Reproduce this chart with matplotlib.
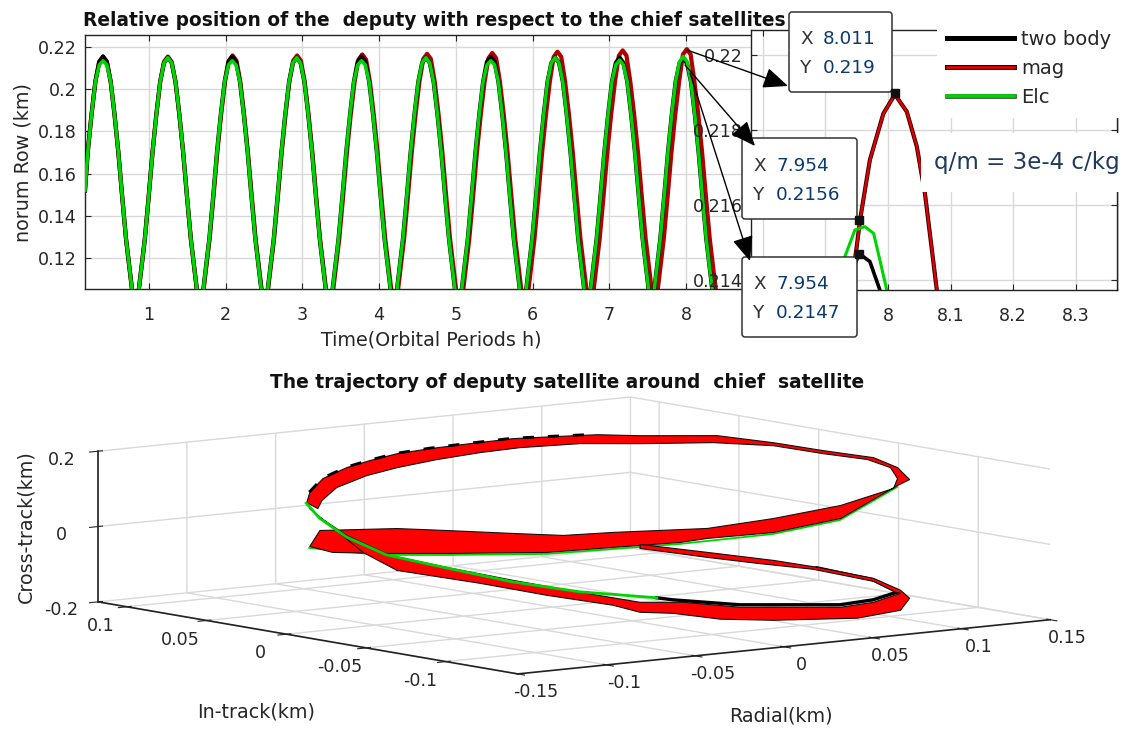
import matplotlib
matplotlib.use("Agg")
import matplotlib.pyplot as plt
from matplotlib.patches import FancyBboxPatch, Rectangle
from matplotlib.lines import Line2D
from matplotlib.transforms import IdentityTransform
from mpl_toolkits.mplot3d.art3d import Poly3DCollection
import matplotlib.patheffects as pe

plt.rcParams['font.family'] = ['DejaVu Sans']
plt.rcParams['axes.unicode_minus'] = False

W, H = 1127, 731
TEXT = '#262626'
GRID = '#d9d9d9'

# ---------- top panel data ----------
time_two_body = [
 0.165,0.20,0.25,0.30,0.35,0.40,0.45,0.50,0.55,0.60,0.65,0.70,0.78,0.82,
 0.865,0.945,0.995,1.045,1.095,1.145,1.195,1.245,1.295,1.345,1.395,1.445,1.495,1.545,1.625,1.665,
 1.705,1.785,1.835,1.885,1.935,1.985,2.035,2.085,2.135,2.185,2.235,2.285,2.335,2.385,2.465,2.505,
 2.545,2.625,2.675,2.725,2.775,2.825,2.875,2.925,2.975,3.025,3.075,3.125,3.175,3.225,3.305,3.345,
 3.39,3.47,3.52,3.57,3.62,3.67,3.72,3.77,3.82,3.87,3.92,3.97,4.02,4.07,4.15,4.19,
 4.23,4.31,4.36,4.41,4.46,4.51,4.56,4.61,4.66,4.71,4.76,4.81,4.86,4.91,4.99,5.03,
 5.075,5.155,5.205,5.255,5.305,5.355,5.405,5.455,5.505,5.555,5.605,5.655,5.705,5.755,5.835,5.875,
 5.915,5.995,6.045,6.095,6.145,6.195,6.245,6.295,6.345,6.395,6.445,6.495,6.545,6.595,6.675,6.715,
 6.755,6.835,6.885,6.935,6.985,7.035,7.085,7.135,7.185,7.235,7.285,7.335,7.385,7.435,7.515,7.555,
 7.585,7.665,7.715,7.765,7.815,7.865,7.915,7.965,8.015,8.065,8.115,8.165,8.215,8.265,8.345,8.385]
row_two_body = [
 .152,.170,.188,.2035,.2130,.2155,.2130,.2035,.188,.170,.149,.129,.1045,.099,
 .1045,.129,.149,.170,.188,.2035,.2125,.2150,.2125,.2035,.188,.170,.149,.129,.1045,.099,
 .1045,.129,.149,.170,.188,.2035,.2130,.2155,.2130,.2035,.188,.170,.149,.129,.1045,.099,
 .1045,.129,.149,.170,.188,.2035,.2125,.2150,.2125,.2035,.188,.170,.149,.129,.1045,.099,
 .1045,.129,.149,.170,.188,.2035,.2130,.2155,.2130,.2035,.188,.170,.149,.129,.1045,.099,
 .1045,.129,.149,.170,.188,.2035,.2125,.2150,.2125,.2035,.188,.170,.149,.129,.1045,.099,
 .1045,.129,.149,.170,.188,.2035,.2130,.2152,.2130,.2035,.188,.170,.149,.129,.1045,.099,
 .1045,.129,.149,.170,.188,.2035,.2125,.2150,.2125,.2035,.188,.170,.149,.129,.1045,.099,
 .1045,.129,.149,.170,.188,.2035,.2125,.2150,.2125,.2035,.188,.170,.149,.129,.1045,.099,
 .1045,.129,.149,.170,.188,.2035,.2122,.2147,.2122,.2035,.188,.170,.149,.129,.1045,.099]
row_elc = [
 .152,.170,.188,.2035,.2115,.2135,.2115,.2035,.188,.170,.149,.129,.1045,.099,
 .1045,.129,.149,.170,.188,.2035,.2125,.2150,.2125,.2035,.188,.170,.149,.129,.1045,.099,
 .1045,.129,.149,.170,.188,.2035,.2115,.2135,.2115,.2035,.188,.170,.149,.129,.1045,.099,
 .1045,.129,.149,.170,.188,.2035,.2125,.2150,.2125,.2035,.188,.170,.149,.129,.1045,.099,
 .1045,.129,.149,.170,.188,.2035,.2115,.2135,.2115,.2035,.188,.170,.149,.129,.1045,.099,
 .1045,.129,.149,.170,.188,.2035,.2125,.2150,.2125,.2035,.188,.170,.149,.129,.1045,.099,
 .1045,.129,.149,.170,.188,.2035,.2115,.2135,.2115,.2035,.188,.170,.149,.129,.1045,.099,
 .1045,.129,.149,.170,.188,.2035,.2125,.2150,.2125,.2035,.188,.170,.149,.129,.1045,.099,
 .1045,.129,.149,.170,.188,.2035,.2115,.2138,.2115,.2035,.188,.170,.149,.129,.1045,.099,
 .1045,.129,.149,.170,.188,.2035,.2130,.2155,.2130,.2035,.188,.170,.149,.129,.1045,.099]
time_mag = [
 0.165,0.20,0.25,0.30,0.35,0.40,0.45,0.50,0.55,0.60,0.65,0.70,0.78,0.82,
 0.865,0.945,0.995,1.045,1.095,1.145,1.195,1.245,1.295,1.345,1.395,1.445,1.495,1.545,1.625,1.665,
 1.71,1.79,1.84,1.89,1.94,1.99,2.04,2.09,2.14,2.19,2.24,2.29,2.34,2.39,2.47,2.51,
 2.55,2.63,2.68,2.73,2.78,2.83,2.88,2.93,2.98,3.03,3.08,3.13,3.18,3.23,3.31,3.35,
 3.40,3.48,3.53,3.58,3.63,3.68,3.73,3.78,3.83,3.88,3.93,3.98,4.03,4.08,4.16,4.20,
 4.245,4.325,4.375,4.425,4.475,4.525,4.575,4.625,4.675,4.725,4.775,4.825,4.875,4.925,5.005,5.045,
 5.095,5.175,5.225,5.275,5.325,5.375,5.425,5.475,5.525,5.575,5.625,5.675,5.725,5.775,5.855,5.895,
 5.945,6.025,6.075,6.125,6.175,6.225,6.275,6.325,6.375,6.425,6.475,6.525,6.575,6.625,6.705,6.745,
 6.795,6.875,6.925,6.975,7.025,7.075,7.125,7.175,7.225,7.275,7.325,7.375,7.425,7.475,7.555,7.595,
 7.631,7.711,7.761,7.811,7.861,7.911,7.961,8.011,8.061,8.111,8.161,8.211,8.261,8.311,8.391,8.431]
row_mag = [
 .152,.170,.188,.2035,.2130,.2155,.2130,.2035,.188,.170,.149,.129,.1045,.099,
 .1045,.129,.149,.170,.188,.2035,.2130,.2155,.2130,.2035,.188,.170,.149,.129,.1045,.099,
 .1045,.129,.149,.170,.188,.2035,.2135,.2160,.2135,.2035,.188,.170,.149,.129,.1045,.099,
 .1045,.129,.149,.170,.188,.2035,.2135,.2160,.2135,.2035,.188,.170,.149,.129,.1045,.099,
 .1045,.129,.149,.170,.188,.2035,.2140,.2165,.2140,.2035,.188,.170,.149,.129,.1045,.099,
 .1045,.129,.149,.170,.188,.2035,.2143,.2168,.2143,.2035,.188,.170,.149,.129,.1045,.099,
 .1045,.129,.149,.170,.188,.2035,.2147,.2172,.2147,.2035,.188,.170,.149,.129,.1045,.099,
 .1045,.129,.149,.170,.188,.2035,.2153,.2178,.2153,.2035,.188,.170,.149,.129,.1045,.099,
 .1045,.129,.149,.170,.188,.2035,.2159,.2184,.2159,.2035,.188,.170,.149,.129,.1045,.099,
 .1045,.129,.149,.170,.188,.2035,.2165,.2190,.2165,.2035,.188,.170,.149,.129,.1045,.099]

# ---------- close-up data around the last peak ----------
zoom_t_mag = [7.940,7.950,7.9553,7.971,7.9926,8.011,8.030,8.046,8.059,8.078,8.090]
zoom_y_mag = [.2137,.21489,.2156,.2172,.21844,.21895,.21849,.21756,.21631,.21373,.2120]
zoom_t_elc = [7.915,7.931,7.947,7.963,7.977,7.987,7.998,8.010]
zoom_y_elc = [.2137,.21462,.21533,.21542,.21524,.21453,.21373,.2125]
zoom_t_two = [7.930,7.954,7.971,7.987,8.000]
zoom_y_two = [.2137,.2147,.21449,.21373,.2125]

tip_labels = [("8.011", "0.219"), ("7.954", "0.2156"), ("7.954", "0.2147")]
tip_t = [8.011, 7.954, 7.954]
tip_y = [0.219, 0.2156, 0.2147]

# ---------- bottom panel data (km) ----------
mag_upper_radial = [-.0722,-.0654,-.0514,-.0315,-.0018,.0178,.0377,.0458,.0654,.0853,.1022,.1058,.1022,.0951,.0802,.0654,.0487,.0258,.0131,0,-.0119,-.0247,-.0365,-.0463,-.0544,-.0612,-.0683,-.0722,-.0731,
 -.0698,-.0686,-.0642,-.0553,-.0463,-.0345,-.0217,-.0098,.0080,.0258,.0475,.0654,.0802,.0933,.1001,.1022,.1010,.0853,.0654,.0458,.0178,.0030,-.0119,-.0315,-.0463,-.0692]
mag_upper_intrack = [.0722,.0654,.0514,.0315,.0018,-.0178,-.0377,-.0458,-.0654,-.0853,-.1022,-.1058,-.1022,-.0951,-.0802,-.0654,-.0487,-.0258,-.0131,0,.0119,.0247,.0365,.0463,.0544,.0612,.0683,.0722,.0731,
 .0698,.0686,.0642,.0553,.0463,.0345,.0217,.0098,-.0080,-.0258,-.0475,-.0654,-.0802,-.0933,-.1001,-.1022,-.1010,-.0853,-.0654,-.0458,-.0178,-.0030,.0119,.0315,.0463,.0692]
mag_upper_cross = [-.0556,-.0697,-.0689,-.0641,-.0540,-.0358,-.0177,-.0050,.0156,.0577,.1494,.1661,.1971,.2217,.2366,.2540,.2686,.2628,.2623,.2538,.2456,.2291,.2130,.1971,.1767,.1566,.1256,.0874,.0607,
 .0456,.0673,.1028,.1367,.1600,.1844,.2061,.2223,.2374,.2416,.2498,.2461,.2286,.2162,.1966,.1679,.1412,.0922,.0527,.0215,.0040,-.0077,-.0061,-.0032,-.0016,-.0125]

mag_lower_radial = [-.0722,-.0564,-.0463,-.0217,-.0018,.0178,.0258,.0357,.0496,.0654,.0903,.1031,.1058,.1031,.0951,.0784,.0654,.0458,.0258,
 .0258,.0458,.0606,.0772,.0951,.1016,.1031,.0951,.0853,.0556,.0386,.0258,.0080,-.0119,-.0315,-.0484,-.0612,-.0692]
mag_lower_intrack = [.0722,.0564,.0463,.0217,.0018,-.0178,-.0258,-.0357,-.0496,-.0654,-.0903,-.1031,-.1058,-.1031,-.0951,-.0784,-.0654,-.0458,-.0258,
 -.0258,-.0458,-.0606,-.0772,-.0951,-.1016,-.1031,-.0951,-.0853,-.0556,-.0386,-.0258,-.0080,.0119,.0315,.0484,.0612,.0692]
mag_lower_cross = [.0450,-.0675,-.1128,-.1409,-.1679,-.1894,-.2061,-.2064,-.2185,-.2175,-.2058,-.1815,-.1491,-.1285,-.0988,-.0736,-.0585,-.0421,-.0260,
 -.0366,-.0554,-.0675,-.0792,-.1068,-.1343,-.1364,-.1624,-.1780,-.1854,-.1764,-.1796,-.1574,-.1306,-.1012,-.0734,-.0236,.0220]

two_lower_radial = [.0309,.0357,.0556,.0853,.0951,.1025,.0951,.0784]
two_lower_intrack = [-.0309,-.0357,-.0556,-.0853,-.0951,-.1025,-.0951,-.0784]
two_lower_cross = [-.1677,-.1719,-.1801,-.1727,-.1571,-.1340,-.1041,-.0763]

two_upper_radial = [-.0722,-.0683,-.0612,-.0544,-.0463,-.0365,-.0247,-.0119,0,.0131]
two_upper_intrack = [.0722,.0683,.0612,.0544,.0463,.0365,.0247,.0119,0,-.0131]
two_upper_cross = [.0874,.1256,.1566,.1767,.1971,.2130,.2291,.2456,.2538,.2623]

elc_front_radial = [-.0731,-.0692,-.0612,-.0493,-.0315,-.0119,.0080,.0309]
elc_front_intrack = [.0731,.0692,.0612,.0493,.0315,.0119,-.0080,-.0309]
elc_front_cross = [.0580,.0193,-.0289,-.0736,-.1038,-.1359,-.1574,-.1677]

elc_edge_radial = [-.0722,-.0514,-.0315,-.0018,.0377,.0654,.0853,.1022]
elc_edge_intrack = [.0722,.0514,.0315,.0018,-.0377,-.0654,-.0853,-.1022]
elc_edge_cross = [-.0609,-.0742,-.0694,-.0593,-.0230,.0103,.0525,.1441]

radial_ticks = [-0.15,-0.1,-0.05,0,0.05,0.1,0.15]
radial_labels = ['-0.15','-0.1','-0.05','0','0.05','0.1','0.15']
intrack_ticks = [-0.1,-0.05,0,0.05,0.1]
intrack_labels = ['-0.1','-0.05','0','0.05','0.1']
cross_ticks = [-0.2,0,0.2]
cross_labels = ['-0.2','0','0.2']

BLACK, RED, GREEN = '#000000', '#b00000', '#00d400'
FS_TICK, FS_LABEL, FS_TITLE = 12.6, 13.8, 13.4

fig = plt.figure(figsize=(W/100, H/100), dpi=100, facecolor='white')

def rect(l, t, r, b):
    return [l/W, 1-b/H, (r-l)/W, (b-t)/H]

def style2d(ax):
    ax.grid(True, color=GRID, lw=1.0)
    ax.set_axisbelow(True)
    ax.tick_params(direction='in', length=4, width=0.8, top=True, right=True,
                   labelsize=FS_TICK, labelcolor=TEXT, color=TEXT)
    ax.tick_params(axis='x', pad=12)
    ax.tick_params(axis='y', pad=6)
    for s in ax.spines.values():
        s.set_color('#222222')
        s.set_linewidth(1.0)

# ---------- main time plot ----------
ax = fig.add_axes(rect(85, 35, 1117, 289))
ax.plot(time_mag, row_mag, color=RED, lw=3.0, label='mag', zorder=2)
ax.plot(time_two_body, row_two_body, color=BLACK, lw=3.0, label='two body', zorder=3)
ax.plot(time_two_body, row_elc, color=GREEN, lw=2.5, label='Elc', zorder=4)
ax.set_xlim(0.165, 13.62)
ax.set_ylim(0.1053, 0.2257)
ax.set_xticks(range(1, 9))
ax.set_yticks([0.12, 0.14, 0.16, 0.18, 0.2, 0.22], ['0.12', '0.14', '0.16', '0.18', '0.2', '0.22'])
style2d(ax)
fig.text(431/W, 1-340/H, 'Time(Orbital Periods h)', ha='center', va='center', fontsize=FS_LABEL, color=TEXT)
fig.text(23/W, 1-162/H, 'norum Row (km)', rotation=90, ha='center', va='center', fontsize=FS_LABEL, color=TEXT)
fig.text(434/W, 1-20/H, 'Relative position of the  deputy with respect to the chief satellites',
         ha='center', va='center', fontsize=FS_TITLE, fontweight='bold', color='#111111')

# ---------- close-up ----------
ins = fig.add_axes(rect(751, 30, 1117, 290), zorder=2)
stroke = [pe.Stroke(linewidth=3.0, foreground='#300000'), pe.Normal()]
ins.plot(zoom_t_mag, zoom_y_mag, color='#e00000', lw=1.7, path_effects=stroke)
ins.plot(zoom_t_two, zoom_y_two, color=BLACK, lw=2.6)
ins.plot(zoom_t_elc, zoom_y_elc, color=GREEN, lw=2.2)
ins.set_xlim(7.781, 8.366)
ins.set_ylim(0.21373, 0.22067)
ins.set_xticks([7.8, 7.9, 8, 8.1, 8.2, 8.3], ['7.8', '7.9', '8', '8.1', '8.2', '8.3'])
ins.set_yticks([0.214, 0.216, 0.218, 0.22], ['0.214', '0.216', '0.218', '0.22'])
style2d(ins)

# white block behind the annotation, which cuts the right edge of the close-up
ins.add_patch(Rectangle((921, H-192), 204, 59, transform=IdentityTransform(),
                        facecolor='white', edgecolor='none', zorder=4, clip_on=False))
ins.text(1027/W, 1-162/H, 'q/m = 3e-4 c/kg', transform=fig.transFigure, ha='center', va='center',
         fontsize=16.6, color='#1f3a5f', zorder=5, clip_on=False)

# data tips
boxes = [(789, 12, 892, 92), (742, 138, 857, 219), (742, 257, 857, 337)]
text_x = [800, 753, 753]
arrows = [((687, 50), (788, 86)), ((685, 65), (755, 146)), ((690, 73), (750, 261))]
for (l, t, r, b), lab, sx, (start, end) in zip(boxes, tip_labels, text_x, arrows):
    ins.add_patch(FancyBboxPatch((l+3, H-b+3), r-l-6, b-t-6, boxstyle='round,pad=3,rounding_size=3',
                                 transform=IdentityTransform(), facecolor='white', edgecolor='#333333',
                                 lw=1.1, zorder=5, clip_on=False))
    for i, (name, val) in enumerate(zip('XY', lab)):
        yy = t + (b-t)*(0.34 if i == 0 else 0.70)
        ins.text(sx/W, 1-yy/H, name, transform=fig.transFigure, ha='left', va='center',
                 fontsize=13.2, color='#333333', zorder=6, clip_on=False)
        ins.text((sx+23)/W, 1-yy/H, val, transform=fig.transFigure, ha='left', va='center',
                 fontsize=13.2, color='#0b3a6e', zorder=6, clip_on=False)
    ins.annotate('', xy=(end[0], H-end[1]), xytext=(start[0], H-start[1]),
                 xycoords='figure pixels', textcoords='figure pixels', zorder=6,
                 arrowprops=dict(arrowstyle='-|>,head_length=0.9,head_width=0.38', mutation_scale=17,
                                 color='black', lw=1.0, shrinkA=0, shrinkB=0))
ins.plot(tip_t, tip_y, ls='none', marker='s', ms=5.5, color='#111111', zorder=7, clip_on=False)

# legend with its white block
fig.add_artist(Rectangle((937/W, 1-118/H), 190/W, 118/H, transform=fig.transFigure,
                         facecolor='white', edgecolor='none', zorder=3))
legend_labels = ['two body', 'mag', 'Elc']
leg_handles = [Line2D([], [], color='black', lw=3.6),
               Line2D([], [], color='#e00000', lw=2.0,
                      path_effects=[pe.Stroke(linewidth=3.6, foreground='#300000'), pe.Normal()]),
               Line2D([], [], color='#00d400', lw=2.6,
                      path_effects=[pe.Stroke(linewidth=3.4, foreground='#355535'), pe.Normal()])]
leg = fig.legend(leg_handles, legend_labels, loc='upper left', bbox_to_anchor=(947/W, 1-30/H), frameon=False,
                 fontsize=14, handlelength=3.45, handletextpad=0.35, labelspacing=0.52, borderpad=0,
                 borderaxespad=0, labelcolor=TEXT)
leg.set_zorder(4)

# ---------- 3D trajectory ----------
S = 380
ax3 = fig.add_axes([379/W, 0.4/H, S/W, S/H], projection='3d', proj_type='ortho', computed_zorder=False)
ax3.set_facecolor('none')
ax3.view_init(elev=7.6, azim=232.4)
ax3.set_box_aspect((672, 688, 152), zoom=945/S)
ax3.set_xlim(-0.15, 0.15, view_margin=0)
ax3.set_ylim(-0.145, 0.118, view_margin=0)
ax3.set_zlim(-0.2, 0.2, view_margin=0)
ax3.set_xticks(radial_ticks, radial_labels)
ax3.set_yticks(intrack_ticks, intrack_labels)
ax3.set_zticks(cross_ticks, cross_labels)
for a in (ax3.xaxis, ax3.yaxis, ax3.zaxis):
    a.set_pane_color((1, 1, 1, 0))
    a.pane.set_edgecolor(GRID)
    a._axinfo['grid'].update(color=GRID, linewidth=1.0)
    a.line.set_color('#222222')
    a.line.set_linewidth(1.2)
ax3.tick_params(labelsize=FS_TICK, labelcolor=TEXT, color=TEXT)
ax3.tick_params(axis='x', pad=-2)
ax3.tick_params(axis='y', pad=-1)
ax3.tick_params(axis='z', pad=-2.5)

ax3.plot(elc_edge_radial, elc_edge_intrack, elc_edge_cross, color='#00d400', lw=1.3, zorder=1, clip_on=False)
ax3.plot(two_lower_radial, two_lower_intrack, two_lower_cross, color='black', lw=2.4, zorder=2, clip_on=False)
for r, i, c in [(mag_upper_radial, mag_upper_intrack, mag_upper_cross),
                (mag_lower_radial, mag_lower_intrack, mag_lower_cross)]:
    band = Poly3DCollection([list(zip(r, i, c))], facecolor='#ff0000', edgecolor='#111111',
                            linewidth=0.8, zorder=3)
    ax3.add_collection3d(band, autolim=False)
    band.set_clip_on(False)
ax3.plot(two_upper_radial, two_upper_intrack, two_upper_cross, color='black', lw=2.0, ls=(0, (4, 5)), zorder=4, clip_on=False)
ax3.plot(elc_front_radial, elc_front_intrack, elc_front_cross, color='#00d400', lw=2.0, zorder=5, clip_on=False)

fig.text(26/W, 1-527/H, 'Cross-track(km)', rotation=90, ha='center', va='center', fontsize=FS_LABEL, color=TEXT)
fig.text(256/W, 1-712/H, 'In-track(km)', ha='center', va='center', fontsize=FS_LABEL, color=TEXT)
fig.text(781/W, 1-716/H, 'Radial(km)', ha='center', va='center', fontsize=FS_LABEL, color=TEXT)
fig.text(567/W, 1-383/H, 'The trajectory of deputy satellite around  chief  satellite',
         ha='center', va='center', fontsize=FS_TITLE, fontweight='bold', color='#111111')

fig.savefig('out.png', dpi=100)
